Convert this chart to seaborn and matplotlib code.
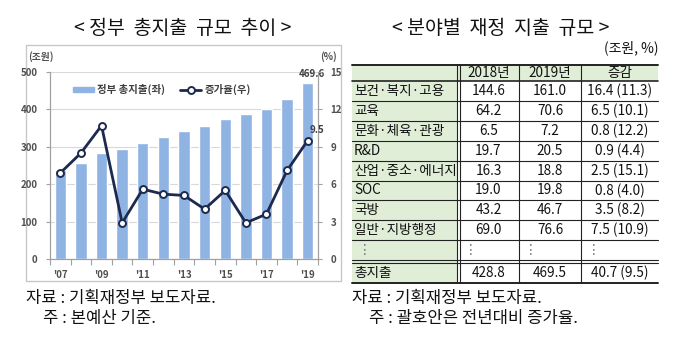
import numpy as np
import pandas as pd
import matplotlib
matplotlib.use("Agg")
import matplotlib.pyplot as plt
import seaborn as sns
from matplotlib.patches import Rectangle
from matplotlib.lines import Line2D

# ---------------- data ----------------
years = ["2007", "2008", "2009", "2010", "2011", "2012", "2013",
         "2014", "2015", "2016", "2017", "2018", "2019"]
year_labels = ["'07", "", "'09", "", "'11", "", "'13", "", "'15", "", "'17", "", "'19"]
spending = [238.4, 257.2, 284.5, 292.8, 309.1, 325.4, 342.0,
            355.8, 375.4, 386.4, 400.5, 428.8, 469.6]
growth = [6.9, 8.5, 10.7, 2.9, 5.6, 5.2, 5.1, 4.0, 5.5, 2.9, 3.6, 7.1, 9.5]
left_ticks = [0, 100, 200, 300, 400, 500]
right_ticks = [0, 3, 6, 9, 12, 15]

fields = ["보건·복지·고용", "교육", "문화·체육·관광", "R&D",
          "산업·중소·에너지", "SOC", "국방", "일반·지방행정"]
val2018 = [144.6, 64.2, 6.5, 19.7, 16.3, 19.0, 43.2, 69.0]
val2019 = [161.0, 70.6, 7.2, 20.5, 18.8, 19.8, 46.7, 76.6]
change = [16.4, 6.5, 0.8, 0.9, 2.5, 0.8, 3.5, 7.5]
change_pct = [11.3, 10.1, 12.2, 4.4, 15.1, 4.0, 8.2, 10.9]
total_label = "총지출"
total_vals = [428.8, 469.5, 40.7, 9.5]
header = ["", "2018년", "2019년", "증감"]

# ---------------- style ----------------
sns.set_theme(style="white")
plt.rcParams['font.family'] = ['Noto Sans CJK KR', 'DejaVu Sans']
BAR = "#8fb4e3"
NAVY = "#1c2a4f"
TICK = "#505050"
GREEN = "#e0eed8"

fig = plt.figure(figsize=(6.8, 3.41), dpi=100)

# overlay in pixel coords
ov = fig.add_axes([0, 0, 1, 1])
ov.set_xlim(0, 680)
ov.set_ylim(341, 0)
ov.axis('off')
ov.patch.set_visible(False)

ov.text(183, 28, "< 정부  총지출  규모  추이 >", ha='center', va='center', fontsize=14, color='#111111')
ov.text(501, 28, "< 분야별  재정  지출  규모 >", ha='center', va='center', fontsize=14, color='#111111')
ov.add_patch(Rectangle((26, 45), 315, 236, fill=False, ec='#c8c8c8', lw=1))

# footnotes
FN = 12
ov.text(26, 298, "자료 : 기획재정부 보도자료.", ha='left', va='center', fontsize=FN, color='#111111')
ov.text(43, 318, "주 : 본예산 기준.", ha='left', va='center', fontsize=FN, color='#111111')
ov.text(352, 298, "자료 : 기획재정부 보도자료.", ha='left', va='center', fontsize=FN, color='#111111')
ov.text(369, 318, "주 : 괄호안은 전년대비 증가율.", ha='left', va='center', fontsize=FN, color='#111111')

# ---------------- left chart ----------------
ax = fig.add_axes([50/680, 1-259/341, 268/680, 187/341])
df = pd.DataFrame({"year": years, "spending": spending})
sns.barplot(data=df, x="year", y="spending", color=BAR, width=0.55, ax=ax,
            saturation=1, zorder=2)
ax.set_ylim(0, 500)
ax.set_yticks(left_ticks)
ax.yaxis.grid(True, color='#d9d9d9', lw=0.8, zorder=0)
ax.set_axisbelow(True)
ax.set_xlabel("")
ax.set_ylabel("")
ax.set_xticks(range(len(years)))
ax.set_xticklabels(year_labels)
ax.set_xticks(np.arange(-0.5, len(years), 1.0), minor=True)
ax.tick_params(axis='x', which='major', length=0, pad=8, labelsize=7, labelcolor=TICK)
ax.tick_params(axis='x', which='minor', length=4, color='#a0a0a0', width=0.8, direction='out', bottom=True)
ax.tick_params(axis='y', length=3, color='#a0a0a0', width=0.8, direction='out', left=True,
               labelsize=7, labelcolor=TICK, pad=6)
for lbl in ax.get_xticklabels() + ax.get_yticklabels():
    lbl.set_fontweight('bold')
ax.spines['top'].set_visible(False)
for s in ['left', 'right', 'bottom']:
    ax.spines[s].set_color('#a0a0a0')
    ax.spines[s].set_linewidth(0.8)

ax2 = ax.twinx()
sns.lineplot(x=np.arange(len(years)), y=growth, ax=ax2, color=NAVY, lw=2,
             marker='o', markersize=5, markerfacecolor='white',
             markeredgecolor=NAVY, markeredgewidth=1.4, zorder=5)
ax2.set_ylim(0, 15)
ax2.set_yticks(right_ticks)
ax2.tick_params(axis='y', length=3, color='#a0a0a0', width=0.8, direction='out', right=True,
                labelsize=7, labelcolor=TICK, pad=6)
for lbl in ax2.get_yticklabels():
    lbl.set_fontweight('bold')
ax2.spines['top'].set_visible(False)
for s in ['left', 'right', 'bottom']:
    ax2.spines[s].set_color('#a0a0a0')
    ax2.spines[s].set_linewidth(0.8)
ax.set_xlim(-0.5, len(years) - 0.5)

# data labels
ax.annotate(f"{spending[-1]:.1f}", (len(years) - 1, spending[-1]), xytext=(3, 3),
            textcoords='offset points', ha='center', va='bottom', fontsize=7,
            fontweight='bold', color='#404040')
ax2.annotate(f"{growth[-1]:.1f}", (len(years) - 1, growth[-1]), xytext=(7, 4),
             textcoords='offset points', ha='center', va='bottom', fontsize=7,
             fontweight='bold', color='#404040')

# unit labels
ov.text(28, 57, "(조원)", ha='left', va='center', fontsize=7, fontweight='bold', color=TICK)
ov.text(337, 57, "(%)", ha='right', va='center', fontsize=7, fontweight='bold', color=TICK)

handles = [Rectangle((0, 0), 1, 1, color=BAR),
           Line2D([0], [0], color=NAVY, lw=2, marker='o', markersize=5,
                  markerfacecolor='white', markeredgecolor=NAVY, markeredgewidth=1.4)]
leg = ax2.legend(handles, ["정부 총지출(좌)", "증가율(우)"], ncol=2, loc='center left',
                 bbox_to_anchor=(0.05, 0.905), frameon=False, fontsize=7.5,
                 handlelength=2.0, handleheight=0.5, columnspacing=1.5, handletextpad=0.3)
for t in leg.get_texts():
    t.set_color('#404040')
    t.set_fontweight('bold')

# ---------------- right table ----------------
col_x = [352, 458, 519, 581, 658]
top = 65
head_h = 16
row_h = 19.9
rows_top = top + head_h
n = len(fields)
ell_top = rows_top + n * row_h
ell_bot = ell_top + 20
tot_top = ell_bot + 3
tot_bot = tot_top + 20

# fills
ov.add_patch(Rectangle((col_x[0], top), col_x[-1] - col_x[0], head_h, color=GREEN, lw=0))
ov.add_patch(Rectangle((col_x[0], top), col_x[1] - col_x[0], tot_bot - top, color=GREEN, lw=0))

LC = '#222222'
ov.plot([col_x[0], col_x[-1]], [top, top], color=LC, lw=1.4)
ov.plot([col_x[0], col_x[-1]], [rows_top, rows_top], color=LC, lw=1.2)
for i in range(1, n + 1):
    y = rows_top + i * row_h
    ov.plot([col_x[0], col_x[-1]], [y, y], color=LC, lw=0.8)
ov.plot([col_x[0], col_x[-1]], [ell_bot, ell_bot], color=LC, lw=0.8)
ov.plot([col_x[0], col_x[-1]], [tot_top, tot_top], color=LC, lw=0.8)
ov.plot([col_x[0], col_x[-1]], [tot_bot, tot_bot], color=LC, lw=1.4)
ov.plot([col_x[1] - 1.5, col_x[1] - 1.5], [top, tot_bot], color=LC, lw=0.8)
ov.plot([col_x[1] + 1.5, col_x[1] + 1.5], [top, tot_bot], color=LC, lw=0.8)
for cx in col_x[2:4]:
    ov.plot([cx, cx], [top, tot_bot], color=LC, lw=0.8)

FS = 9.8
TC = '#111111'
centers = [(col_x[i] + col_x[i + 1]) / 2 for i in range(4)]
ov.text(658, 48, "(조원, %)", ha='right', va='center', fontsize=10, color=TC)
for j in range(1, 4):
    ov.text(centers[j], top + head_h / 2, header[j], ha='center', va='center', fontsize=FS, color=TC)
for i in range(n):
    yc = rows_top + (i + 0.5) * row_h
    ov.text(col_x[0] + 2, yc, fields[i], ha='left', va='center', fontsize=FS, color=TC)
    ov.text(centers[1], yc, f"{val2018[i]:.1f}", ha='center', va='center', fontsize=FS, color=TC)
    ov.text(centers[2], yc, f"{val2019[i]:.1f}", ha='center', va='center', fontsize=FS, color=TC)
    ov.text(centers[3], yc, f"{change[i]:.1f} ({change_pct[i]:.1f})", ha='center', va='center',
            fontsize=FS, color=TC)
ye = (ell_top + ell_bot) / 2
for cx in [col_x[0] + 6, col_x[1] + 6, col_x[2] + 5, col_x[3] + 6]:
    ov.text(cx, ye, "⋮", ha='left', va='center', fontsize=FS, color='#777777',
            family=['DejaVu Sans'])
yt = (tot_top + tot_bot) / 2
ov.text(col_x[0] + 2, yt, total_label, ha='left', va='center', fontsize=FS, color=TC)
ov.text(centers[1], yt, f"{total_vals[0]:.1f}", ha='center', va='center', fontsize=FS, color=TC)
ov.text(centers[2], yt, f"{total_vals[1]:.1f}", ha='center', va='center', fontsize=FS, color=TC)
ov.text(centers[3], yt, f"{total_vals[2]:.1f} ({total_vals[3]:.1f})", ha='center', va='center',
        fontsize=FS, color=TC)

fig.savefig("out.png", dpi=100)
